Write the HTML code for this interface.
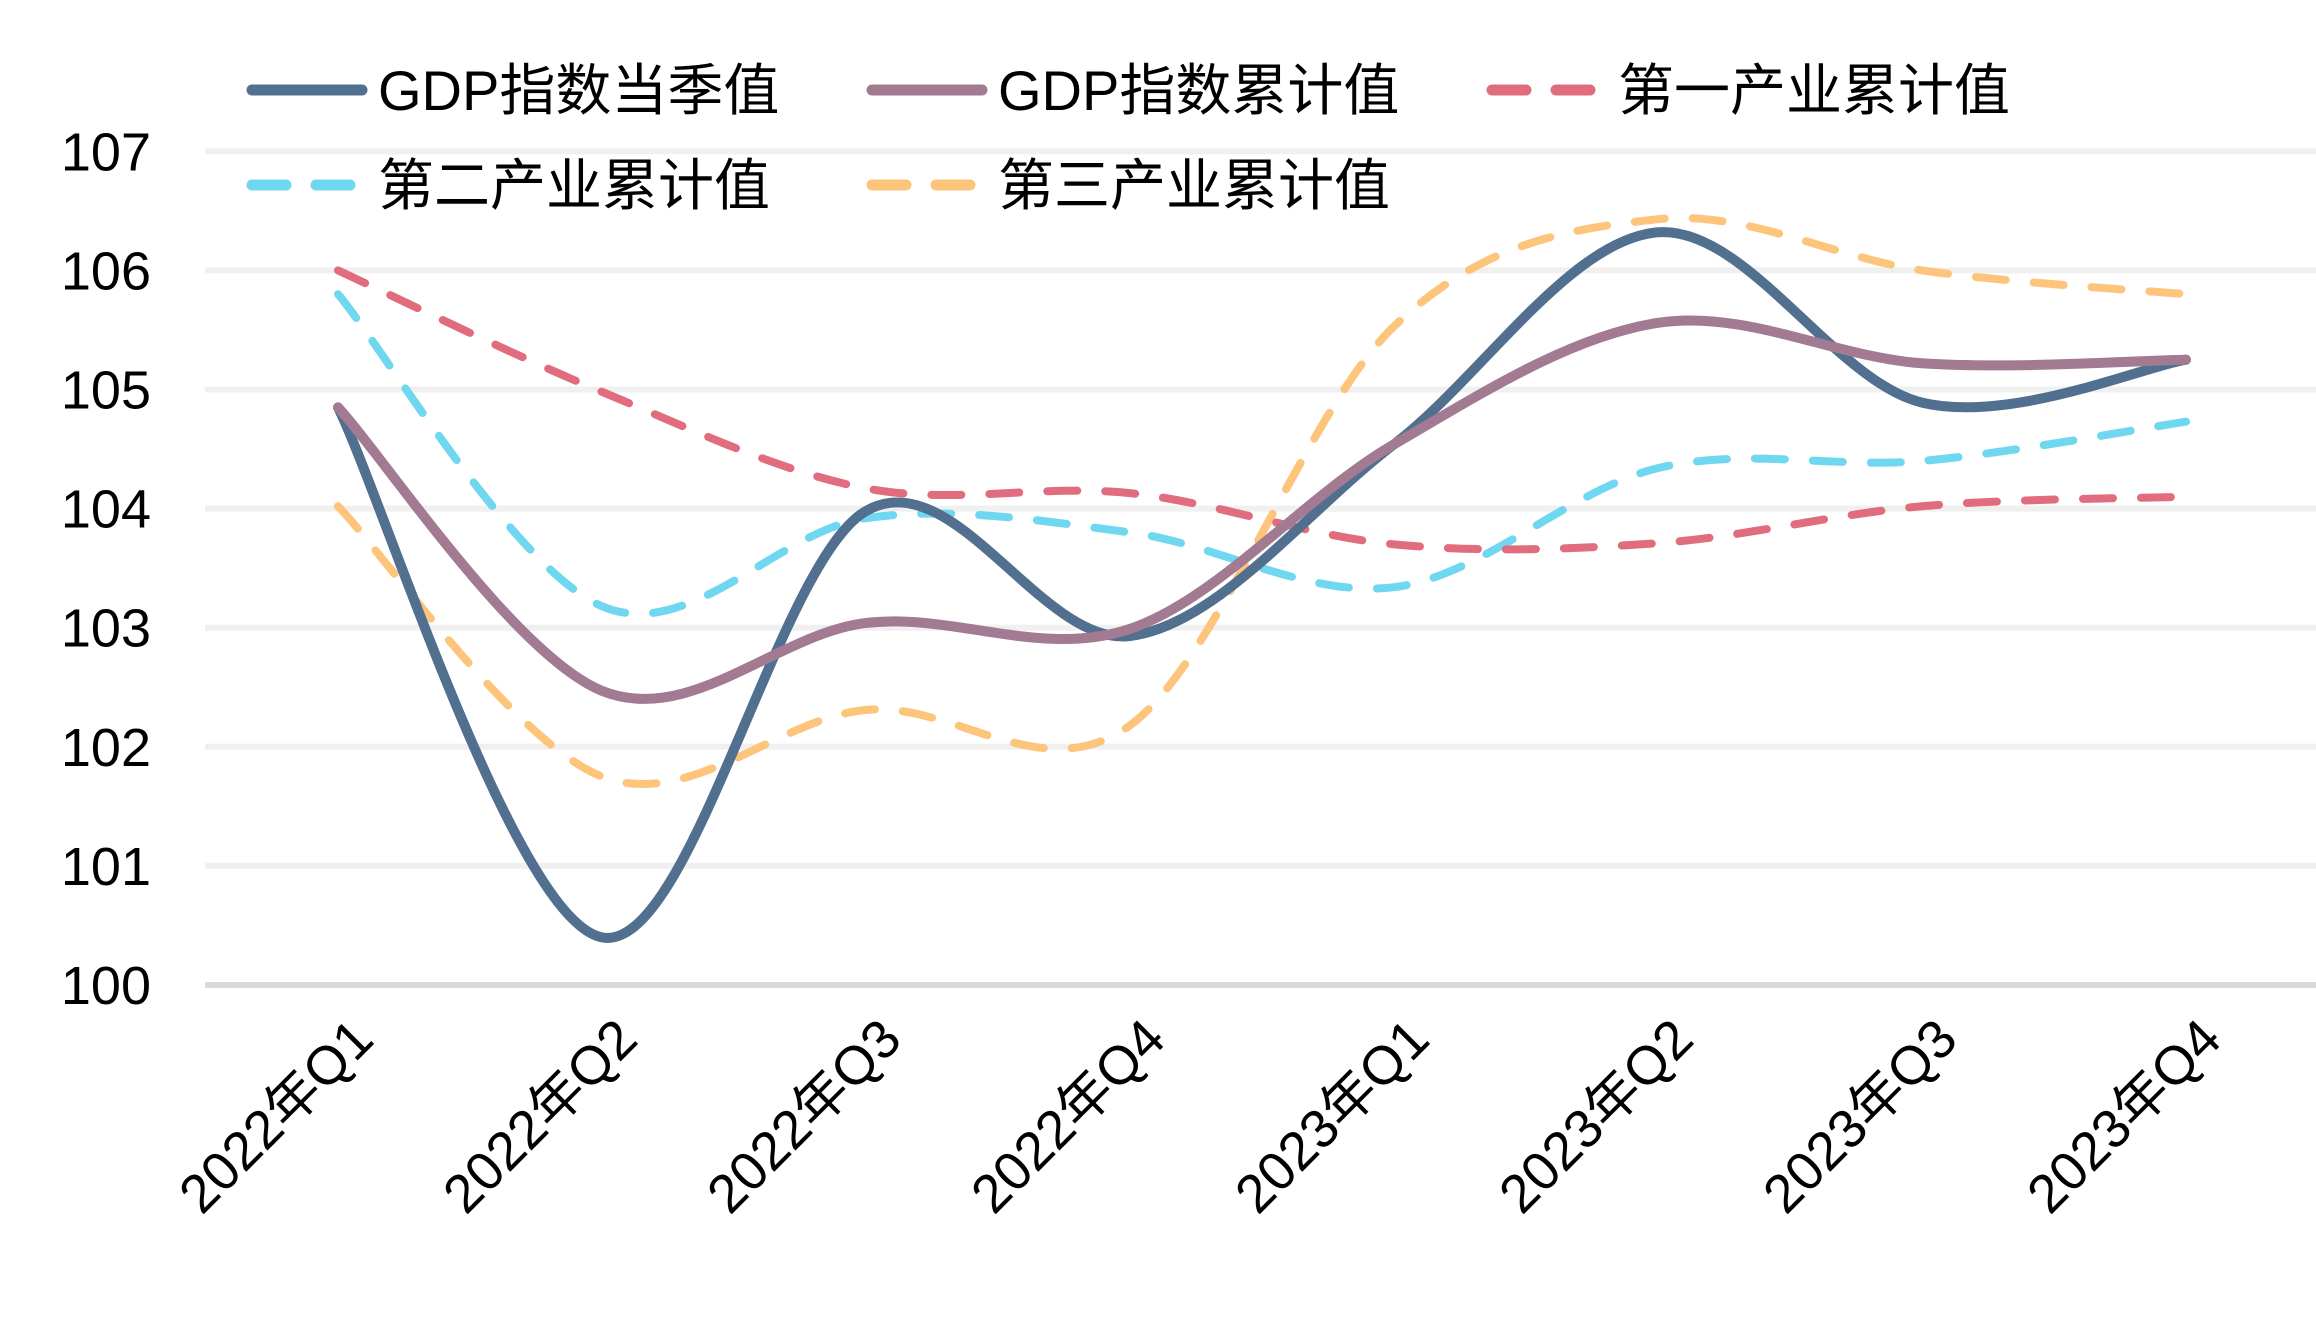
<!DOCTYPE html>
<html><head><meta charset="utf-8"><style>
html,body{margin:0;padding:0;background:#fff;}
svg{display:block;font-family:"Liberation Sans","Noto Sans CJK SC",sans-serif;}
</style></head><body>
<svg id="chart" width="2316" height="1332" viewBox="0 0 2316 1332" xmlns="http://www.w3.org/2000/svg">
<g id="grid"></g>
<g id="yticks"></g>
<g id="xticks"></g>
<g id="series"></g>
<g id="legend"></g>
</svg>
<script>
const categories = ["2022年Q1","2022年Q2","2022年Q3","2022年Q4","2023年Q1","2023年Q2","2023年Q3","2023年Q4"];
const yTicks = [100,101,102,103,104,105,106,107];
const gdpQuarter = [104.85,100.4,103.98,102.93,104.54,106.32,104.89,105.25];
const gdpCumulative = [104.85,102.47,103.04,102.99,104.54,105.56,105.22,105.25];
const primaryCumulative = [106.0,104.98,104.17,104.13,103.7,103.71,104.02,104.1];
const secondaryCumulative = [105.8,103.18,103.92,103.8,103.34,104.34,104.4,104.73];
const tertiaryCumulative = [104.02,101.75,102.31,102.18,105.53,106.43,106.0,105.8];
const seriesNames = ["GDP指数当季值","GDP指数累计值","第一产业累计值","第二产业累计值","第三产业累计值"];

const NS="http://www.w3.org/2000/svg";
const x0=338, dx=264.0, yBase=985, yUnit=119.1;
function xs(i){return x0+i*dx;}
function ys(v){return yBase-(v-100)*yUnit;}
function mk(tag,attrs,parent){const e=document.createElementNS(NS,tag);for(const k in attrs)e.setAttribute(k,attrs[k]);parent.appendChild(e);return e;}

const grid=document.getElementById('grid');
const yt=document.getElementById('yticks');
yTicks.forEach(t=>{
  const l=mk('line',{x1:205,x2:2316,y1:ys(t),y2:ys(t),stroke:t===100?'#d9d9d9':'#f0f0f0','stroke-width':6},grid);
  
  
  const tx=mk('text',{x:151,y:ys(t)+19,'text-anchor':'end','font-size':54,fill:'#000'},yt);
  tx.textContent=t;
  
  
});
const xt=document.getElementById('xticks');
categories.forEach((c,i)=>{
  const ax=xs(i)+38, ay=1042;
  const tx=mk('text',{x:ax,y:ay,'text-anchor':'end','font-size':54,fill:'#000',transform:`rotate(-45 ${ax} ${ay})`},xt);
  tx.textContent=c;
  
  
});

function pathFor(vals){
  const p=vals.map((v,i)=>[xs(i),ys(v)]);
  let d=`M${p[0][0]},${p[0][1]}`;
  const t=0.5;
  for(let i=0;i<p.length-1;i++){
    const a=p[Math.max(i-1,0)],b=p[i],c=p[i+1],e=p[Math.min(i+2,p.length-1)];
    const c1=[b[0]+(c[0]-a[0])/6*t*2*0.5*2/2, b[1]+(c[1]-a[1])/6];
    const c2=[c[0]-(e[0]-b[0])/6, c[1]-(e[1]-b[1])/6];
    c1[0]=b[0]+(c[0]-a[0])/6;
    d+=` C${c1[0]},${c1[1]} ${c2[0]},${c2[1]} ${c[0]},${c[1]}`;
  }
  return d;
}
const series=document.getElementById('series');
const defs=[
 {data:tertiaryCumulative,color:'#fdc47c',dash:true,name:'tertiary-line'},
 {data:secondaryCumulative,color:'#6fd7f0',dash:true,name:'secondary-line'},
 {data:primaryCumulative,color:'#e06c7e',dash:true,name:'primary-line'},
 {data:gdpQuarter,color:'#51708f',dash:false,name:'gdp-quarter-line'},
 {data:gdpCumulative,color:'#a27a92',dash:false,name:'gdp-cumulative-line'}
];
defs.forEach(s=>{
  const attrs={d:pathFor(s.data),fill:'none',stroke:s.color,'stroke-width':s.dash?8:10,'stroke-linecap':'round','stroke-linejoin':'round'};
  if(s.dash)attrs['stroke-dasharray']='30 28';
  const e=mk('path',attrs,series);
  
  
});

const legend=document.getElementById('legend');
const litems=[
 {x:252,y:90,color:'#51708f',dash:false},
 {x:872,y:90,color:'#a27a92',dash:false},
 {x:1492,y:90,color:'#e06c7e',dash:true},
 {x:252,y:185,color:'#6fd7f0',dash:true},
 {x:872,y:185,color:'#fdc47c',dash:true}
];
litems.forEach((it,i)=>{
  const g=mk('g',{},legend);
  
  
  const a={x1:it.x,x2:it.x+110,y1:it.y,y2:it.y,stroke:it.color,'stroke-width':11,'stroke-linecap':'round'};
  if(it.dash)a['stroke-dasharray']='34 30';
  const l=mk('line',a,g);
  
  
  const tx=mk('text',{x:it.x+126,y:it.y+20,'font-size':56,fill:'#000'},g);
  tx.textContent=seriesNames[i];
  
  
});
</script>
</body></html>
